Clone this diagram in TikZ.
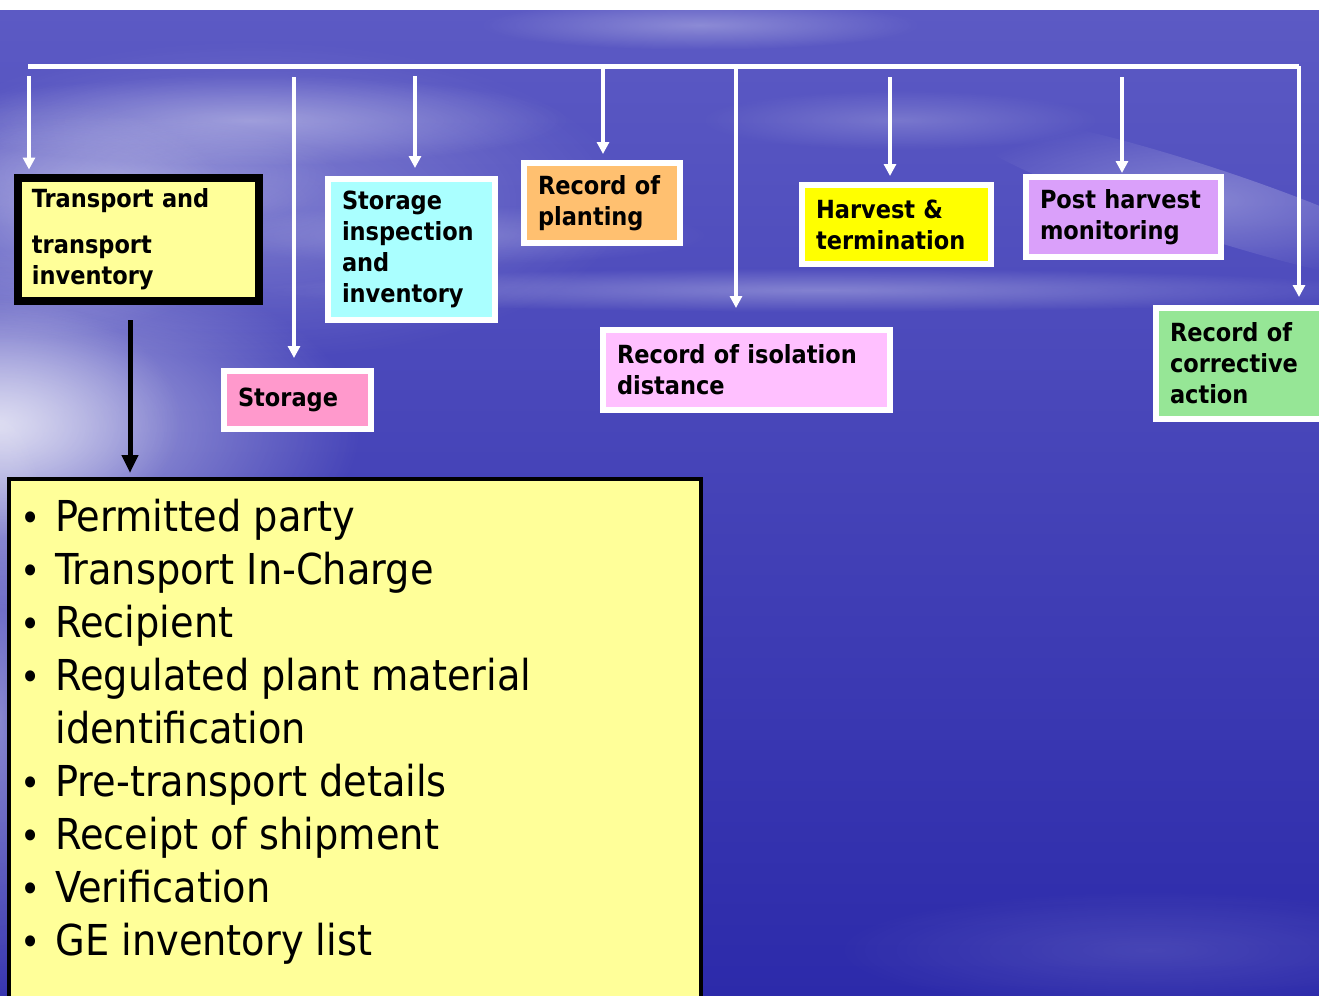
\documentclass[tikz,border=0pt]{standalone}
\usepackage{fontspec}
\setmainfont{DejaVu Sans Condensed}
\usetikzlibrary{arrows.meta,fadings}

\definecolor{skytop}{RGB}{92,90,196}
\definecolor{skymid}{RGB}{64,62,184}
\definecolor{skylow}{RGB}{44,42,170}
\definecolor{paleyellow}{RGB}{255,255,153}
\definecolor{palecyan}{RGB}{170,255,255}
\definecolor{paleorange}{RGB}{255,192,112}
\definecolor{palepink}{RGB}{255,192,255}
\definecolor{brightyellow}{RGB}{255,255,0}
\definecolor{lilac}{RGB}{218,160,250}
\definecolor{palegreen}{RGB}{150,230,150}
\definecolor{rosepink}{RGB}{255,153,204}

\tikzfading[name=softedge, inner color=transparent!0, outer color=transparent!100]

\begin{document}
\begin{tikzpicture}[x=0.5pt,y=-0.5pt,
  box/.style={rectangle, draw=white, line width=3pt, inner xsep=7pt, inner ysep=0pt,
    align=left, text=black, font=\bfseries\fontsize{12.5pt}{15.5pt}\selectfont},
  bus/.style={white, line width=2.5pt},
  warrow/.style={white, line width=2pt, -{Triangle[width=6pt,length=6pt]}},
  barrow/.style={black, line width=2.5pt, -{Triangle[width=8pt,length=9pt]}},
  haze/.style={white, path fading=softedge},
]
\useasboundingbox (0,0) rectangle (1319,996);
\clip (0,0) rectangle (1319,996);

% background: white strip and sky
\fill[white] (0,0) rectangle (1319,10);
\shade[top color=skytop, middle color=skymid, bottom color=skylow] (0,10) rectangle (1319,996);

% clouds and haze
\fill[haze, opacity=.25] (250,200) ellipse (380 and 160);
\fill[haze, opacity=.35] (250,120) ellipse (320 and 45);
\fill[haze, opacity=.25] (120,175) ellipse (220 and 60);
\fill[haze, opacity=.30] (700,25) ellipse (220 and 25);
\fill[haze, opacity=.20] (450,235) ellipse (260 and 30);
\fill[haze, opacity=.30, rotate around={-18:(1200,200)}] (1200,200) ellipse (260 and 35);
\fill[haze, opacity=.20] (900,120) ellipse (200 and 30);
\fill[haze, opacity=.30] (820,290) ellipse (560 and 22);
\fill[haze, opacity=.60] (0,430) ellipse (360 and 180);
\fill[haze, opacity=.55] (0,420) ellipse (180 and 120);
\fill[haze, opacity=.30] (40,220) ellipse (200 and 120);
\fill[haze, opacity=.40] (0,720) ellipse (60 and 320);
\fill[haze, opacity=.12] (1150,950) ellipse (320 and 60);

% distribution bus
\coordinate (busL) at (28,66);
\coordinate (busR) at (1299,66);
\draw[bus] (busL) -- (busR);

% record boxes
\node[box, draw=black, line width=4pt, fill=paleyellow, minimum width=120.5pt, minimum height=61.5pt,
  text width=106.5pt] (tr) at (138.5,239) {Transport~and\\[7.5pt]transport\\inventory};
\node[box, fill=rosepink, minimum width=73.5pt, minimum height=29pt, text width=59.5pt]
  (st) at (297.5,400) {Storage};
\node[box, fill=palecyan, minimum width=83.5pt, minimum height=70.5pt, text width=69.5pt]
  (si) at (411.5,249.5) {Storage\\inspection\\and\\inventory};
\node[box, fill=paleorange, minimum width=78pt, minimum height=40pt, text width=64pt]
  (pl) at (602,203) {Record~of\\planting};
\node[box, fill=palepink, minimum width=143.5pt, minimum height=40pt, text width=129.5pt]
  (iso) at (746.5,370) {Record~of~isolation\\distance};
\node[box, fill=brightyellow, minimum width=94.5pt, minimum height=39.5pt, text width=80.5pt]
  (hv) at (896.5,224.5) {Harvest~\&\\termination};
\node[box, fill=lilac, minimum width=97.5pt, minimum height=40pt, text width=83.5pt]
  (ph) at (1123.5,217) {Post~harvest\\monitoring};
\node[box, fill=palegreen, minimum width=88pt, minimum height=55.5pt, text width=74pt]
  (co) at (1244,363.5) {Record~of\\corrective\\action};

% branches from the bus
\coordinate (a1) at (29,76);
\coordinate (a2) at (294,77);
\coordinate (a3) at (415,76);
\coordinate (a4) at (603,66);
\coordinate (a5) at (736,66);
\coordinate (a6) at (890,77);
\coordinate (a7) at (1122,77);
\draw[warrow, shorten >=2pt] (a1) -- (a1 |- tr.north);
\draw[warrow, shorten >=5pt] (a2) -- (a2 |- st.north);
\draw[warrow, shorten >=4pt] (a3) -- (a3 |- si.north);
\draw[warrow, shorten >=3pt] (a4) -- (a4 |- pl.north);
\draw[warrow, shorten >=9.5pt] (a5) -- (a5 |- iso.north);
\draw[warrow, shorten >=3pt] (a6) -- (a6 |- hv.north);
\draw[warrow, shorten >=0.5pt] (a7) -- (a7 |- ph.north);
\draw[warrow, shorten >=4pt] (busR) -- (busR |- co.north);

% transport details
\node[draw=black, line width=2pt, fill=paleyellow, minimum width=346pt, minimum height=300pt,
  anchor=north west, inner sep=0pt] (details) at (7,477) {};
\coordinate (b1) at (130,320);
\draw[barrow, shorten >=2pt] (b1) -- (b1 |- details.north);

\newcommand\itm{\makebox[10pt][c]{\fontsize{19pt}{19pt}\selectfont\textbullet}\hspace{7.5pt}}
\node[anchor=north west, inner sep=0pt, align=left, text=black,
  font=\fontsize{21.3pt}{26.5pt}\selectfont] (items) at (20,499) {%
  \itm Permitted party\\
  \itm Transport In-Charge\\
  \itm Recipient\\
  \itm Regulated plant material\\
  \hspace*{17.5pt}identification\\
  \itm Pre-transport details\\
  \itm Receipt of shipment\\
  \itm Verification\\
  \itm GE inventory list};
\end{tikzpicture}
\end{document}
